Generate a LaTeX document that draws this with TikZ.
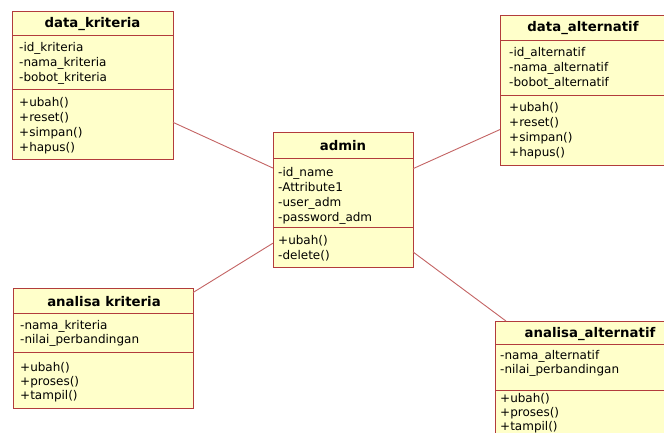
\documentclass[tikz,border=0pt]{standalone}
\usepackage{fontspec}
\setmainfont{DejaVu Sans}
\definecolor{clsfill}{RGB}{255,255,202}
\definecolor{clsdraw}{RGB}{178,60,60}
\definecolor{lnkcol}{RGB}{196,100,100}
\begin{document}
\begin{tikzpicture}[x=1pt,y=-1pt,
  cls/.style={draw=clsdraw, fill=clsfill, line width=1pt, inner sep=0pt, outer sep=0pt},
  ttl/.style={font=\fontsize{13.3}{15}\selectfont\bfseries, anchor=base, inner sep=0pt},
  txt/.style={font=\fontsize{12}{15}\selectfont, anchor=base west, inner sep=0pt},
  txtb/.style={font=\fontsize{12}{14}\selectfont, anchor=base west, inner sep=0pt},
  sepline/.style={draw=clsdraw, line width=1pt},
  lnk/.style={draw=lnkcol, line width=0.9pt}]
\useasboundingbox (0,0) rectangle (664,433);
\clip (0,0) rectangle (664,433);
\fill[white] (0,0) rectangle (664,433);

% class boxes
\node[cls, minimum width=161pt, minimum height=148pt] (dk) at (92.5,85.5) {};
\node[cls, minimum width=140pt, minimum height=134pt] (ad) at (343,200) {};
\node[cls, minimum width=172pt, minimum height=150pt] (da) at (586,91) {};
\node[cls, minimum width=180pt, minimum height=120pt] (ak) at (103,348) {};
\node[cls, minimum width=190pt, minimum height=125pt] (aa) at (590,383.5) {};

% connectors
\draw[lnk] (dk) -- (ad);
\draw[lnk] (da) -- (ad);
\draw[lnk] (ak) -- (ad);
\draw[lnk] (aa) -- (ad);

% dividers
\draw[sepline] (dk.west |- 0,36) -- (dk.east |- 0,36);
\draw[sepline] (dk.west |- 0,90) -- (dk.east |- 0,90);
\draw[sepline] (ad.west |- 0,159) -- (ad.east |- 0,159);
\draw[sepline] (ad.west |- 0,227) -- (ad.east |- 0,227);
\draw[sepline] (da.west |- 0,41) -- (da.east |- 0,41);
\draw[sepline] (da.west |- 0,96) -- (da.east |- 0,96);
\draw[sepline] (ak.west |- 0,313) -- (ak.east |- 0,313);
\draw[sepline] (ak.west |- 0,352) -- (ak.east |- 0,352);
\draw[sepline] (aa.west |- 0,344) -- (aa.east |- 0,344);
\draw[sepline] (aa.west |- 0,390) -- (aa.east |- 0,390);

% data_kriteria
\node[ttl] (dkt) at (92.5,28) {data\_kriteria};
\node[txt] (dka) at (19,52) {\begin{tabular}[t]{@{}l@{}}-id\_kriteria\\-nama\_kriteria\\-bobot\_kriteria\end{tabular}};
\node[txt] (dkm) at (19,107) {\begin{tabular}[t]{@{}l@{}}+ubah()\\+reset()\\+simpan()\\+hapus()\end{tabular}};

% admin
\node[ttl] (adt) at (343,150) {admin};
\node[txt] (ada) at (278,176) {\begin{tabular}[t]{@{}l@{}}-id\_name\\-Attribute1\\-user\_adm\\-password\_adm\end{tabular}};
\node[txt] (adm) at (278,244) {\begin{tabular}[t]{@{}l@{}}+ubah()\\-delete()\end{tabular}};

% data_alternatif
\node[ttl] (dat) at (583,32) {data\_alternatif};
\node[txt] (daa) at (509,57) {\begin{tabular}[t]{@{}l@{}}-id\_alternatif\\-nama\_alternatif\\-bobot\_alternatif\end{tabular}};
\node[txt] (dam) at (509,112) {\begin{tabular}[t]{@{}l@{}}+ubah()\\+reset()\\+simpan()\\+hapus()\end{tabular}};

% analisa kriteria
\node[ttl] (akt) at (104,306) {analisa kriteria};
\node[txtb] (aka) at (20,329) {\begin{tabular}[t]{@{}l@{}}-nama\_kriteria\\-nilai\_perbandingan\end{tabular}};
\node[txtb] (akm) at (20,371) {\begin{tabular}[t]{@{}l@{}}+ubah()\\+proses()\\+tampil()\end{tabular}};

% analisa_alternatif
\node[ttl] (aat) at (590,337) {analisa\_alternatif};
\node[txtb] (aaa) at (500,359) {\begin{tabular}[t]{@{}l@{}}-nama\_alternatif\\-nilai\_perbandingan\end{tabular}};
\node[txtb] (aam) at (500,402) {\begin{tabular}[t]{@{}l@{}}+ubah()\\+proses()\\+tampil()\end{tabular}};
\end{tikzpicture}
\end{document}
